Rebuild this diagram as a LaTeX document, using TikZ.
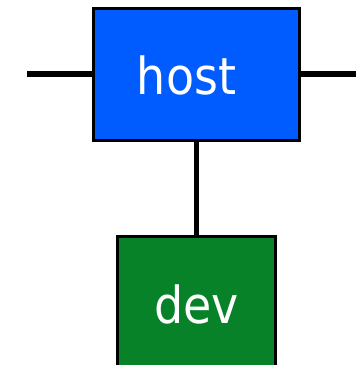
\documentclass[tikz,border=0pt]{standalone}
\usepackage{fontspec}
\newfontfamily\boxfont{DejaVu Sans Condensed}
\usetikzlibrary{positioning}
\definecolor{ink}     {HTML}{000000}
\definecolor{hostblue}{HTML}{005CFF}
\definecolor{devgreen}{HTML}{078228}
\tikzset{
  box/.style     = {draw=ink, line width=3pt, inner sep=0pt,
                    minimum height=132.5pt},
  hostbox/.style = {box, fill=hostblue, minimum width=206pt},
  devbox/.style  = {box, fill=devgreen, minimum width=157.5pt},
  lbl/.style     = {font=\boxfont\fontsize{51}{60}\selectfont,
                    text=white, inner sep=0pt, anchor=base},
  wire/.style    = {draw=ink, line width=5.5pt},
}
\begin{document}
\begin{tikzpicture}[x=1pt, y=1pt]
  \useasboundingbox (0,0) rectangle (356,365);

  % --- boxes ---
  \node[hostbox] (host) at (196.5,290.25) {};
  \node[devbox, below=93pt of host.south, anchor=north] (dev) {};

  % --- labels ---
  \node[lbl] (hosttxt) at ([xshift=-10pt, yshift=-20pt]host.center) {host};
  \node[lbl] (devtxt)  at ([yshift=-20pt]dev.center) {dev};

  % --- wires ---
  \coordinate (inL)  at (27,291);
  \coordinate (outR) at (360,291);
  \draw[wire] (inL) -- (inL -| host.west);
  \draw[wire] (outR -| host.east) -- (outR);
  \draw[wire] (host.south) -- (dev.north);
\end{tikzpicture}
\end{document}
